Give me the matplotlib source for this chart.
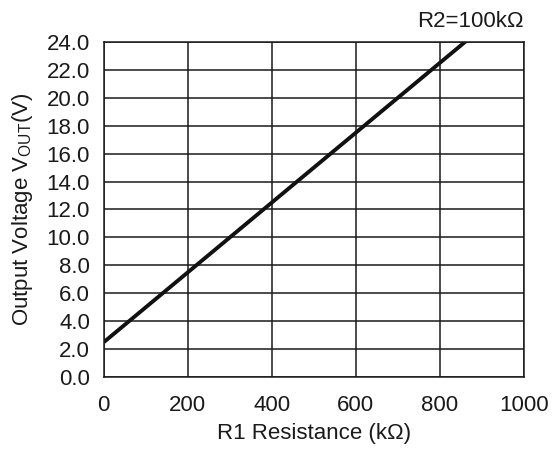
import matplotlib
matplotlib.use("Agg")
import matplotlib.pyplot as plt

# R1 resistance (kOhm) vs output voltage (V), R2 = 100 kOhm
r1_kohm = [0, 200, 400, 600, 800, 1000]
vout = [2.5, 7.5, 12.5, 17.5, 22.5, 27.5]

x_ticks = [0, 200, 400, 600, 800, 1000]
y_ticks = [0, 2, 4, 6, 8, 10, 12, 14, 16, 18, 20, 22, 24]

plt.rcParams['font.family'] = ['Liberation Sans', 'DejaVu Sans']
plt.rcParams['mathtext.fontset'] = 'custom'
plt.rcParams['mathtext.rm'] = 'Liberation Sans'

fs = 16
ink = '#1a1a1a'
fig = plt.figure(figsize=(5.58, 4.5), dpi=100)
ax = fig.add_axes([0.186, 0.162, 0.753, 0.745])

ax.plot(r1_kohm, vout, color='#111111', linewidth=2.8, solid_capstyle='butt')

ax.set_xlim(0, 1000)
ax.set_ylim(0, 24)
ax.set_xticks(x_ticks)
ax.set_yticks(y_ticks)
ax.set_yticklabels([f"{v:.1f}" for v in y_ticks])
ax.tick_params(length=0, labelsize=fs, colors=ink)
ax.tick_params(axis='x', pad=13)
ax.tick_params(axis='y', pad=10)
ax.grid(True, color=ink, linewidth=1.1)
for s in ax.spines.values():
    s.set_color(ink)
    s.set_linewidth(1.1)

ax.set_xlabel('R1 Resistance (kΩ)', fontsize=fs, color=ink, labelpad=5)
ax.set_ylabel(r'Output Voltage V$\mathregular{_{OUT}}$(V)', fontsize=fs,
              color=ink, labelpad=8)
ax.text(1.0, 1.03, 'R2=100kΩ', transform=ax.transAxes, ha='right', va='bottom',
        fontsize=fs, color=ink)

fig.savefig('out.png', dpi=100)
